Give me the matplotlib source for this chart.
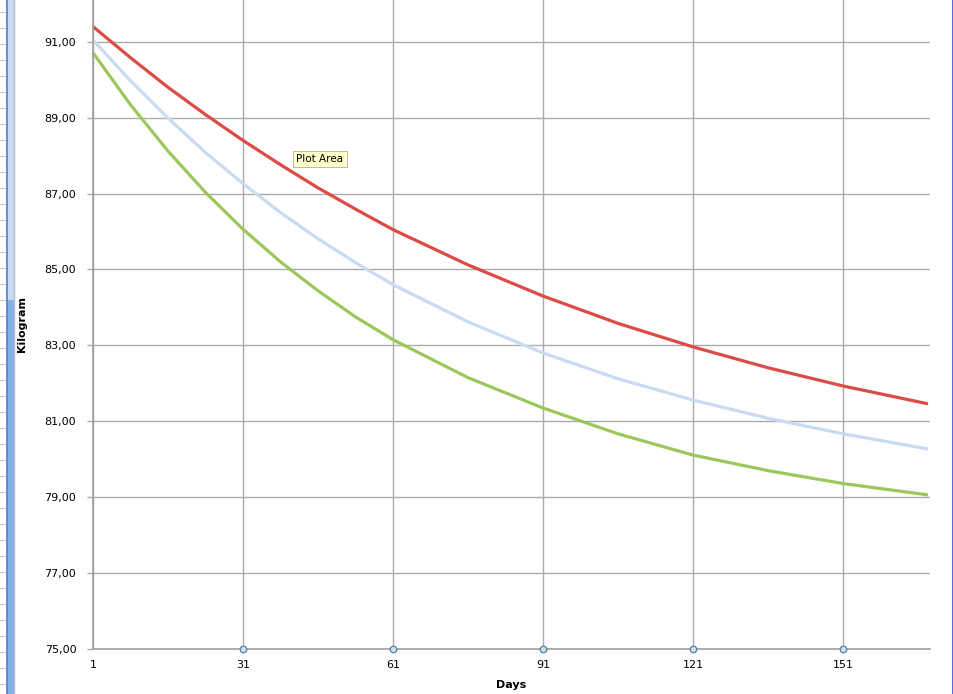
import matplotlib.pyplot as plt
from matplotlib.patches import Rectangle
from matplotlib.lines import Line2D
from matplotlib.ticker import FuncFormatter

# --- data ---
days = [1, 8.5, 16, 23.5, 31, 38.5, 46, 53.5, 61, 76, 91, 106, 121, 136, 151, 168]
red_kg = [91.40, 90.58, 89.80, 89.08, 88.40, 87.76, 87.15, 86.59, 86.05,
          85.12, 84.30, 83.58, 82.96, 82.41, 81.93, 81.46]
blue_kg = [91.05, 89.97, 88.99, 88.08, 87.26, 86.50, 85.81, 85.18, 84.60,
           83.62, 82.80, 82.12, 81.56, 81.08, 80.67, 80.27]
green_kg = [90.71, 89.34, 88.12, 87.03, 86.06, 85.20, 84.44, 83.75, 83.15,
            82.15, 81.35, 80.67, 80.11, 79.70, 79.36, 79.06]

x_ticks = [1, 31, 61, 91, 121, 151]
y_ticks = [75, 77, 79, 81, 83, 85, 87, 89, 91]
handle_days = [31, 61, 91, 121, 151]   # selection handles on the axis

W, H = 954, 694
fig = plt.figure(figsize=(W / 100, H / 100), dpi=100)
fig.patch.set_facecolor('white')

# plot area in pixel coords
left, right, bottom, top = 93, 930, 649, 0
ax = fig.add_axes([left / W, (H - bottom) / H, (right - left) / W, (bottom - top) / H])
ax.set_facecolor('white')

grid_col = '#ababab'
ax.set_xlim(1, 168.4)
ax.set_ylim(75, 92.1)
ax.set_xticks(x_ticks)
ax.set_yticks(y_ticks)
ax.yaxis.set_major_formatter(FuncFormatter(lambda v, p: f'{v:.2f}'.replace('.', ',')))
ax.grid(True, color=grid_col, linewidth=1.0)
ax.set_axisbelow(True)
for s in ['top', 'right']:
    ax.spines[s].set_visible(False)
for s in ['left', 'bottom']:
    ax.spines[s].set_color('#a0a0a0')
    ax.spines[s].set_linewidth(1.2)
ax.tick_params(axis='y', length=4, color=grid_col, width=1.0, pad=8, labelsize=8)
ax.tick_params(axis='x', length=0, pad=8, labelsize=8)

# series
ax.plot(days, red_kg, color='#dc4b46', linewidth=2.3, solid_capstyle='butt', clip_on=False)
ax.plot(days, blue_kg, color='#c8dbf2', linewidth=2.3, solid_capstyle='butt', clip_on=False)
ax.plot(days, green_kg, color='#9bc75c', linewidth=2.3, solid_capstyle='butt', clip_on=False)

# axis selection handles
ax.scatter(handle_days, [75] * len(handle_days), s=22, facecolor='#cfe3ee',
           edgecolor='#5b86b0', linewidth=1.0, zorder=5, clip_on=False)

ax.set_ylabel('Kilogram', fontsize=8, fontweight='bold', labelpad=13)
ax.set_xlabel('Days', fontsize=8, fontweight='bold', labelpad=7)

# tooltip
ax.text(46.4, 87.92, 'Plot Area', fontsize=7.5, ha='center', va='center',
        bbox=dict(boxstyle='square,pad=0.3', facecolor='#ffffcc', edgecolor='#b0b0a0', linewidth=0.6))

# window chrome on the left and right edges
split = 1 - 300 / H   # scrollbar colour change ~300 px from the top
for yy in range(12, H, 16):
    fig.add_artist(Line2D([0, 7 / W], [1 - yy / H, 1 - yy / H], color='#c8c8c8', linewidth=0.8))
fig.add_artist(Rectangle((7 / W, split), 7 / W, 1 - split, facecolor='#c8dcf6', edgecolor='none'))
fig.add_artist(Rectangle((7 / W, 0), 7 / W, split, facecolor='#84b3ec', edgecolor='none'))
fig.add_artist(Line2D([7.5 / W, 7.5 / W], [0, 1], color='#5a76d4', linewidth=1.2))
fig.add_artist(Line2D([14 / W, 14 / W], [0, 1], color='#b4bcc8', linewidth=1.0))
fig.add_artist(Line2D([953 / W, 953 / W], [0, 1], color='#5a6fd6', linewidth=1.5))

fig.savefig('out.png', dpi=100)
